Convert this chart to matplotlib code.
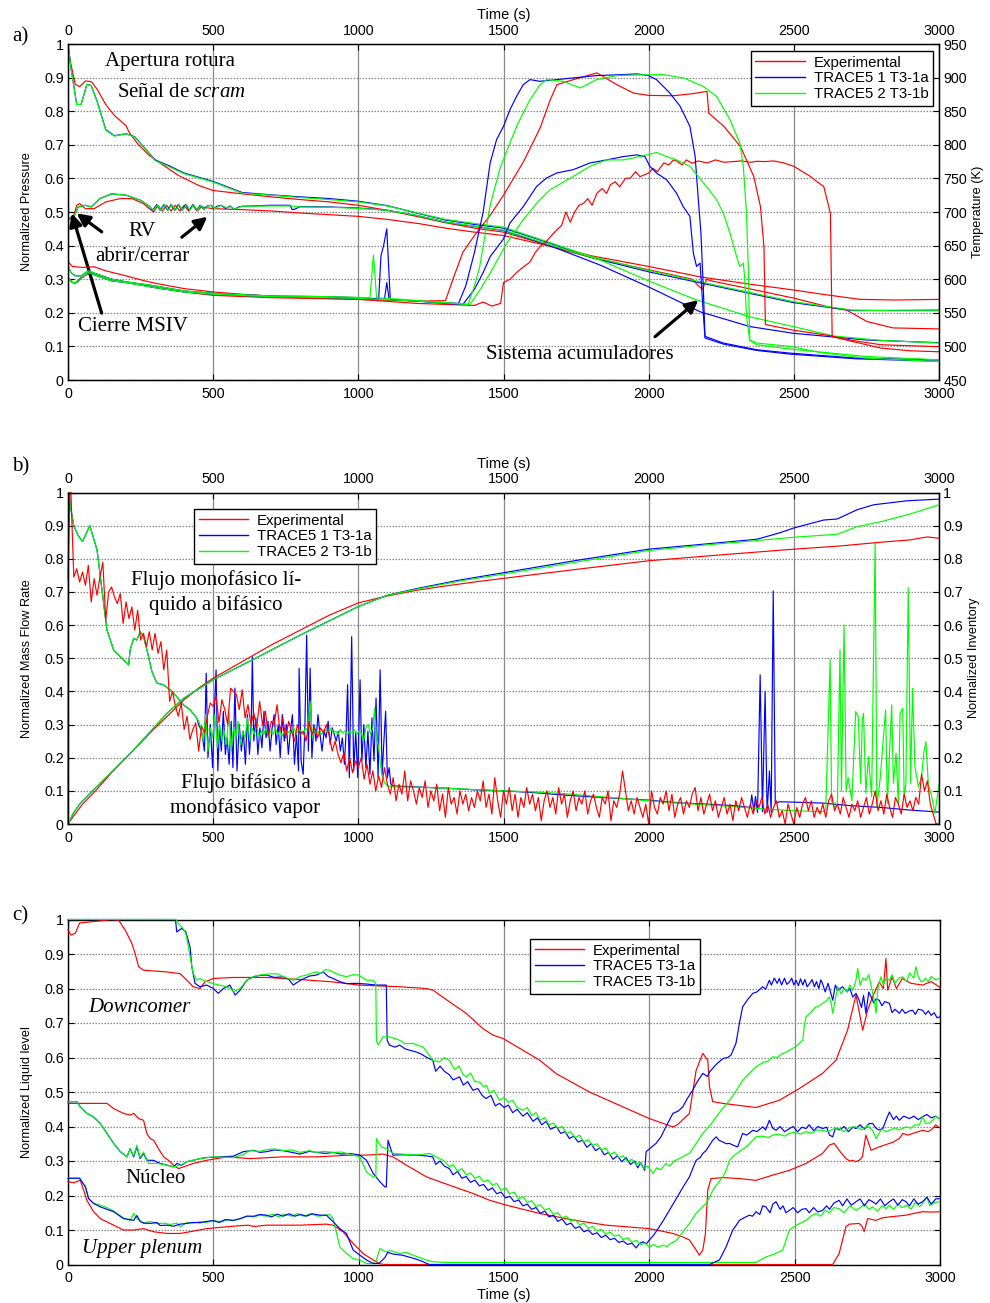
import numpy as np
import matplotlib
matplotlib.use("Agg")
import matplotlib.pyplot as plt
from matplotlib.lines import Line2D
from matplotlib.ticker import FuncFormatter

plt.rcParams['font.family'] = ['Liberation Sans', 'DejaVu Sans']
plt.rcParams['mathtext.fontset'] = 'custom'
plt.rcParams['mathtext.rm'] = 'Liberation Serif'
plt.rcParams['mathtext.it'] = 'Liberation Serif:italic'

RED, BLUE, GREEN = '#ff0000', '#0000ff', '#00ff00'
SERIF = ['Liberation Serif', 'DejaVu Serif']
LW = 0.85

# ---------------------------------------------------------------- panel a
# normalized pressures (left axis)
t_pa_exp = [0, 10, 25, 40, 60, 80, 100, 130, 160, 200, 210, 240, 280, 320, 380, 450, 500, 600, 700, 800,
            900, 1000, 1100, 1200, 1300, 1400, 1500, 1650, 1800, 2000, 2177, 2350, 2498, 2600, 2728, 2850, 3000]
pa_exp = [0.99, 0.94, 0.88, 0.873, 0.89, 0.888, 0.866, 0.82, 0.787, 0.757, 0.738, 0.703, 0.668, 0.644, 0.609,
          0.579, 0.564, 0.554, 0.545, 0.537, 0.53, 0.52, 0.505, 0.487, 0.468, 0.452, 0.44, 0.402, 0.37, 0.338,
          0.307, 0.285, 0.268, 0.255, 0.24, 0.238, 0.24]
t_pb_exp = [0, 20, 30, 40, 60, 90, 130, 180, 220, 260, 280, 295, 310, 325, 340, 355, 370, 385, 400, 415,
            430, 445, 460, 500, 600, 700, 800, 900, 1000, 1100, 1212, 1300, 1400, 1500, 1650, 1800, 2000, 2150,
            2172, 2185, 2200, 2215, 2300, 2498, 2636, 2682, 2752, 2842, 3000]
pb_exp = [0.478, 0.49, 0.52, 0.525, 0.51, 0.51, 0.53, 0.54, 0.54, 0.525, 0.51, 0.5, 0.52, 0.503, 0.52, 0.503,
          0.52, 0.503, 0.52, 0.503, 0.52, 0.503, 0.515, 0.51, 0.507, 0.503, 0.497, 0.492, 0.487, 0.478, 0.465,
          0.452, 0.44, 0.43, 0.4, 0.365, 0.328, 0.30, 0.28, 0.27, 0.30, 0.295, 0.28, 0.244, 0.214, 0.208, 0.174,
          0.155, 0.152]
t_pa_sim = [0, 10, 30, 45, 65, 80, 100, 130, 160, 200, 230, 260, 300, 350, 400, 500, 600, 700, 800, 900,
            1000, 1100, 1200, 1300, 1400, 1500, 1650, 1800, 2000, 2200, 2500, 2700, 2850, 3000]
pa_1a = [1.0, 0.93, 0.82, 0.82, 0.88, 0.876, 0.83, 0.745, 0.727, 0.733, 0.724, 0.694, 0.655, 0.637, 0.616,
         0.591, 0.558, 0.551, 0.545, 0.54, 0.532, 0.519, 0.497, 0.476, 0.463, 0.452, 0.41, 0.365, 0.322, 0.285,
         0.23, 0.207, 0.207, 0.208]
pa_1b = [1.0, 0.93, 0.82, 0.82, 0.88, 0.876, 0.83, 0.743, 0.726, 0.733, 0.723, 0.693, 0.653, 0.634, 0.614,
         0.589, 0.556, 0.55, 0.543, 0.537, 0.53, 0.518, 0.498, 0.478, 0.466, 0.455, 0.412, 0.368, 0.326, 0.288,
         0.233, 0.208, 0.206, 0.206]
t_pb_1a = [0, 15, 25, 35, 60, 80, 110, 150, 200, 250, 280, 292, 305, 318, 330, 343, 355, 368, 380, 393,
           405, 418, 430, 443, 455, 468, 480, 493, 503, 513, 528, 543, 558, 573, 588, 600, 700, 765, 772, 780,
           800, 900, 1000, 1100, 1200, 1300, 1400, 1500, 1650, 1833, 2005, 2177, 2349, 2498, 2752, 3000]
pb_1a = [0.477, 0.48, 0.495, 0.515, 0.52, 0.515, 0.54, 0.554, 0.55, 0.535, 0.517, 0.505, 0.522, 0.505, 0.522,
         0.505, 0.522, 0.505, 0.522, 0.505, 0.522, 0.505, 0.522, 0.505, 0.52, 0.508, 0.518, 0.52, 0.51, 0.517,
         0.52, 0.51, 0.518, 0.508, 0.515, 0.517, 0.52, 0.52, 0.507, 0.508, 0.516, 0.515, 0.512, 0.505, 0.49,
         0.47, 0.457, 0.445, 0.403, 0.342, 0.275, 0.203, 0.159, 0.139, 0.119, 0.111]
t_pb_1b = [0, 15, 25, 35, 60, 80, 110, 150, 200, 250, 280, 295, 308, 320, 333, 345, 358, 370, 383, 395,
           408, 420, 433, 445, 458, 470, 483, 495, 505, 515, 530, 545, 560, 575, 590, 600, 700, 770, 800, 900,
           1000, 1100, 1200, 1300, 1400, 1500, 1650, 1833, 2005, 2166, 2349, 2498, 2636, 2800, 3000]
pb_1b = [0.477, 0.48, 0.495, 0.515, 0.52, 0.515, 0.54, 0.554, 0.55, 0.535, 0.517, 0.505, 0.522, 0.505, 0.522,
         0.505, 0.522, 0.505, 0.522, 0.505, 0.522, 0.505, 0.522, 0.505, 0.52, 0.508, 0.518, 0.52, 0.51, 0.515,
         0.52, 0.512, 0.516, 0.508, 0.514, 0.517, 0.518, 0.518, 0.515, 0.514, 0.511, 0.505, 0.49, 0.47, 0.458,
         0.446, 0.405, 0.357, 0.293, 0.238, 0.188, 0.159, 0.131, 0.118, 0.11]

# cladding temperatures in K (right axis)
t_t1_exp = [0, 15, 50, 90, 130, 200, 260, 300, 400, 500, 600, 800, 1000, 1200, 1300, 1330, 1360, 1400, 1454,
            1500, 1569, 1626, 1661, 1684, 1741, 1822, 1890, 1948, 2000, 2086, 2150, 2201, 2207, 2259, 2316,
            2362, 2385, 2397, 2402, 2500, 2625, 2700, 2800, 3000]
t1_exp = [626, 619, 617.5, 618.5, 612.5, 605, 598, 594, 586, 581, 577.5, 572.5, 570, 567.5, 568, 605, 640, 665,
          695, 725, 775, 825, 867, 889.5, 897, 907, 889.5, 877, 873.5, 873, 876, 879.5, 847, 827.5, 797.5,
          753, 708, 648.5, 532.5, 524, 516, 509, 502.5, 499.5]
t_t2_exp = [0, 15, 25, 45, 75, 100, 150, 200, 300, 400, 500, 700, 1000, 1200, 1300, 1400, 1430, 1460, 1490,
            1500, 1523, 1545, 1569, 1590, 1610, 1626, 1645, 1665, 1684, 1700, 1715, 1730, 1745, 1760, 1776,
            1790, 1805, 1822, 1840, 1855, 1868, 1885, 1900, 1920, 1937, 1955, 1970, 2000, 2015, 2030, 2052,
            2070, 2085, 2098, 2115, 2130, 2150, 2170, 2201, 2230, 2260, 2290, 2320, 2350, 2374, 2400, 2430,
            2466, 2500, 2530, 2557, 2580, 2603, 2626, 2632, 2700, 2800, 2900, 3000]
t2_exp = [602.5, 595, 594, 602.5, 609, 607.5, 600, 596, 587.5, 581, 576, 572.5, 570, 564, 562.5, 561, 566, 560,
          564, 595, 600, 610, 618.5, 625, 640, 648.5, 655, 665, 673.5, 680, 700, 685, 700, 710, 713, 720, 710,
          728, 735, 727.5, 740.5, 745, 737.5, 750, 750.5, 760, 752.5, 758, 765, 760, 773, 770, 777.5, 775.5,
          770, 777.5, 772.5, 776, 773, 777.5, 774, 775, 776, 774, 775.5, 775, 776, 773, 768, 760, 753, 745,
          738, 698, 514.5, 507.5, 497.5, 493.5, 492]
t_t1_1a = [0, 10, 25, 45, 70, 100, 150, 200, 300, 400, 500, 700, 900, 1000, 1060, 1070, 1078, 1087, 1098,
           1110, 1200, 1300, 1345, 1370, 1400, 1430, 1454, 1476, 1500, 1522, 1545, 1568, 1591, 1625, 1683,
           1740, 1821, 1913, 1959, 1999, 2027, 2073, 2108, 2142, 2160, 2171, 2180, 2188, 2194, 2257, 2372,
           2487, 2716, 2998]
t1_1a = [620, 610, 605, 605, 612.5, 607.5, 600, 596, 590, 582.5, 579, 575, 574, 572.5, 571, 570, 635, 650,
         675, 570, 567.5, 565, 564, 590, 640, 700, 773, 807.5, 827.5, 852, 872, 889.5, 897, 894.5, 897, 899.5,
         903, 904.5, 905.5, 903, 897, 877, 857.5, 827.5, 783, 718.5, 668.5, 589, 515, 505, 495, 490, 482.5,
         480]
t_t2_1a = [0, 15, 30, 70, 100, 150, 200, 300, 400, 500, 700, 900, 1000, 1090, 1098, 1106, 1200, 1300, 1360,
           1400, 1430, 1454, 1500, 1522, 1568, 1614, 1648, 1683, 1740, 1798, 1855, 1913, 1959, 1987, 2004,
           2027, 2062, 2096, 2119, 2142, 2154, 2165, 2177, 2188, 2194, 2257, 2372, 2487, 2716, 2998]
t2_1a = [602.5, 595, 595, 610, 605, 597.5, 595, 587.5, 581, 577.5, 574, 572.5, 571.5, 570, 595, 570, 567.5,
         564, 562.5, 585, 610, 633.5, 660, 683.5, 708, 738, 750.5, 758, 763, 773, 777.5, 782.5, 785, 782.5,
         768, 758, 748, 728, 708, 693.5, 638.5, 619, 624, 550, 512.5, 503.5, 494, 488.5, 481.5, 478]
t_t1_1b = [0, 10, 25, 45, 70, 100, 150, 200, 300, 400, 500, 700, 900, 1040, 1052, 1063, 1100, 1200, 1300,
           1378, 1400, 1418, 1454, 1488, 1545, 1591, 1626, 1649, 1706, 1764, 1821, 1890, 1970, 2050, 2120,
           2188, 2234, 2280, 2314, 2326, 2337, 2343, 2348, 2372, 2487, 2602, 2750, 3000]
t1_1b = [620, 610, 605, 605, 612.5, 607.5, 600, 596, 590, 582.5, 579, 575, 574, 572.5, 636, 572.5, 571.5,
         568.5, 565, 562.5, 590, 618.5, 710, 765, 827.5, 867, 889.5, 897, 894.5, 884.5, 897, 903, 904, 904.5,
         899.5, 887, 872, 837.5, 802.5, 767.5, 698.5, 619, 510, 505, 500, 490, 482.5, 477.5]
t_t2_1b = [0, 15, 30, 70, 100, 150, 200, 300, 400, 500, 700, 900, 1000, 1200, 1385, 1420, 1454, 1511, 1568,
           1614, 1660, 1740, 1798, 1855, 1913, 1970, 2028, 2062, 2096, 2142, 2199, 2234, 2257, 2280, 2303,
           2314, 2326, 2331, 2337, 2348, 2372, 2487, 2750, 3000]
t2_1b = [602.5, 595, 595, 610, 605, 597.5, 595, 587.5, 581, 577.5, 574, 572.5, 571.5, 567.5, 562.5, 585, 609,
         653.5, 688.5, 713, 733, 753, 768, 777.5, 777.5, 782.5, 788.5, 782.5, 777.5, 768, 738, 718, 698.5,
         668.5, 633.5, 619, 624, 600, 545, 509, 502.5, 496, 485, 480]

# ---------------------------------------------------------------- panel b
# experimental break mass flow, sampled every 10 s from t = 10 s
flow_exp_head = [(0, 0.74), (6, 1.0)]
flow_exp_10s = [
    1.0, 0.745, 0.77, 0.73, 0.76, 0.72, 0.78, 0.67, 0.74, 0.69,
    0.745, 0.79, 0.615, 0.70, 0.715, 0.685, 0.665, 0.695, 0.605, 0.67,
    0.62, 0.655, 0.585, 0.645, 0.555, 0.575, 0.535, 0.58, 0.525, 0.575,
    0.515, 0.55, 0.465, 0.525, 0.37, 0.40, 0.355, 0.325, 0.365, 0.285,
    0.325, 0.255, 0.285, 0.305, 0.22, 0.295, 0.275, 0.325, 0.365, 0.355,
    0.385, 0.305, 0.375, 0.345, 0.30, 0.41, 0.40, 0.39, 0.345, 0.405,
    0.32, 0.36, 0.30, 0.335, 0.29, 0.37, 0.30, 0.34, 0.265, 0.31,
    0.30, 0.36, 0.28, 0.32, 0.26, 0.31, 0.28, 0.25, 0.30, 0.27,
    0.28, 0.25, 0.31, 0.27, 0.29, 0.26, 0.29, 0.275, 0.30, 0.265,
    0.22, 0.25, 0.21, 0.185, 0.215, 0.16, 0.20, 0.155, 0.19, 0.17,
    0.20, 0.135, 0.18, 0.12, 0.16, 0.10, 0.145, 0.11, 0.17, 0.12,
    0.09, 0.14, 0.07, 0.12, 0.09, 0.16, 0.07, 0.13, 0.10, 0.06,
    0.11, 0.08, 0.13, 0.05, 0.10, 0.07, 0.12, 0.04, 0.09, 0.02,
    0.11, 0.06, 0.08, 0.03, 0.10, 0.06, 0.09, 0.04, 0.08, 0.05,
    0.10, 0.07, 0.13, 0.05, 0.09, 0.03, 0.14, 0.07, 0.02, 0.10,
    0.06, 0.11, 0.04, 0.09, 0.02, 0.08, 0.05, 0.11, 0.06, 0.09,
    0.04, 0.08, 0.01, 0.07, 0.10, 0.05, 0.08, 0.03, 0.11, 0.06,
    0.09, 0.02, 0.07, 0.10, 0.04, 0.08, 0.06, 0.10, 0.03, 0.07,
    0.09, 0.05, 0.02, 0.08, 0.06, 0.10, 0.01, 0.07, 0.05, 0.09,
    0.16, 0.10, 0.04, 0.07, 0.03, 0.08, 0.05, 0.02, 0.06, 0.0,
    0.10, 0.05, 0.03, 0.08, 0.06, 0.10, 0.04, 0.09, 0.02, 0.06,
    0.08, 0.03, 0.07, 0.05, 0.09, 0.11, 0.04, 0.08, 0.03, 0.06,
    0.09, 0.04, 0.07, 0.02, 0.05, 0.08, 0.03, 0.06, 0.01, 0.07,
    0.04, 0.08, 0.05, 0.02, 0.06, 0.03, 0.07, 0.05, 0.08, 0.03,
    0.06, 0.02, 0.05, 0.07, 0.02, 0.04, 0.0, 0.06, 0.03, 0.0,
    0.05, 0.02, 0.06, 0.08, 0.04, 0.07, 0.02, 0.05, 0.03, 0.06,
    0.02, 0.07, 0.09, 0.04, 0.06, 0.03, 0.08, 0.05, 0.02, 0.06,
    0.04, 0.07, 0.02, 0.05, 0.08, 0.03, 0.06, 0.10, 0.04, 0.07,
    0.03, 0.09, 0.05, 0.02, 0.08, 0.06, 0.03, 0.09, 0.05, 0.07,
    0.04, 0.08, 0.06, 0.15, 0.10, 0.13, 0.06, 0.03, 0.0, 0.0,
]
flow_sim_start = [(0, 0.0), (2, 1.0), (10, 0.95), (20, 0.9), (35, 0.87), (50, 0.852), (75, 0.9), (100, 0.827),
                  (117, 0.706), (134, 0.586), (157, 0.525), (180, 0.505), (209, 0.48), (214, 0.525), (226, 0.56),
                  (237, 0.555), (249, 0.58), (260, 0.565), (272, 0.525), (289, 0.46), (306, 0.425), (329, 0.42),
                  (352, 0.404), (375, 0.384), (398, 0.359), (421, 0.344), (444, 0.319)]
flow_1a = [(450, 0.30), (460, 0.28), (470, 0.22), (476, 0.455), (482, 0.20), (490, 0.30), (498, 0.17), (505, 0.36),
           (510, 0.465), (516, 0.16), (522, 0.30), (528, 0.22), (535, 0.34), (542, 0.21), (548, 0.26), (555, 0.18),
           (562, 0.31), (568, 0.17), (575, 0.41), (582, 0.16), (590, 0.30), (597, 0.22), (604, 0.28), (611, 0.18),
           (618, 0.33), (625, 0.21), (631, 0.30), (635, 0.505), (640, 0.25), (647, 0.32), (654, 0.21), (661, 0.29),
           (668, 0.23), (675, 0.34), (682, 0.26), (689, 0.31), (696, 0.22), (703, 0.29), (710, 0.33), (717, 0.24),
           (724, 0.30), (731, 0.20), (738, 0.33), (745, 0.25), (752, 0.30), (759, 0.21), (766, 0.28), (773, 0.33),
           (780, 0.18), (787, 0.27), (794, 0.16), (796, 0.47), (803, 0.19), (810, 0.15), (816, 0.30), (822, 0.57),
           (828, 0.22), (834, 0.47), (840, 0.20), (847, 0.30), (854, 0.25), (861, 0.33), (868, 0.27), (875, 0.22),
           (882, 0.28), (889, 0.26), (896, 0.31), (903, 0.24), (910, 0.29), (917, 0.27), (924, 0.25), (931, 0.28),
           (938, 0.22), (945, 0.26), (952, 0.18), (958, 0.28), (963, 0.42), (969, 0.14), (977, 0.565), (984, 0.16),
           (991, 0.28), (998, 0.14), (1006, 0.435), (1012, 0.19), (1019, 0.30), (1026, 0.17), (1033, 0.28),
           (1040, 0.15), (1047, 0.32), (1054, 0.19), (1061, 0.38), (1068, 0.14), (1075, 0.465), (1082, 0.15),
           (1088, 0.25), (1094, 0.34), (1100, 0.14), (1106, 0.17), (1112, 0.12), (1120, 0.115), (1200, 0.112),
           (1300, 0.108), (1400, 0.103), (1500, 0.1), (1600, 0.095), (1700, 0.088), (1800, 0.082), (1900, 0.077),
           (2000, 0.072), (2100, 0.064), (2200, 0.06), (2300, 0.055), (2350, 0.05), (2355, 0.088), (2362, 0.04),
           (2368, 0.083), (2375, 0.035), (2384, 0.45), (2392, 0.037), (2401, 0.40), (2408, 0.035), (2416, 0.16),
           (2422, 0.035), (2429, 0.703), (2436, 0.062), (2450, 0.067), (2500, 0.066), (2600, 0.063),
           (2700, 0.055), (2800, 0.05), (2900, 0.042), (3000, 0.036)]
flow_1b = [(450, 0.31), (458, 0.29), (466, 0.25), (474, 0.33), (482, 0.22), (490, 0.29), (498, 0.26), (506, 0.33),
           (514, 0.23), (522, 0.30), (530, 0.25), (538, 0.28), (546, 0.24), (554, 0.34), (562, 0.22), (570, 0.29),
           (578, 0.26), (586, 0.31), (594, 0.24), (602, 0.28), (610, 0.26), (618, 0.32), (626, 0.25), (634, 0.29),
           (642, 0.27), (650, 0.30), (658, 0.26), (666, 0.28), (674, 0.27), (682, 0.29), (690, 0.26), (698, 0.28),
           (706, 0.27), (714, 0.29), (722, 0.27), (730, 0.28), (738, 0.265), (746, 0.285), (754, 0.27), (762, 0.28),
           (770, 0.275), (778, 0.29), (786, 0.27), (794, 0.285), (802, 0.28), (810, 0.27), (818, 0.29), (826, 0.28),
           (834, 0.37), (842, 0.26), (850, 0.285), (858, 0.275), (866, 0.28), (874, 0.27), (882, 0.285), (890, 0.28),
           (898, 0.275), (906, 0.29), (914, 0.275), (922, 0.28), (930, 0.27), (938, 0.285), (946, 0.275),
           (954, 0.28), (962, 0.27), (970, 0.28), (978, 0.275), (986, 0.285), (994, 0.27), (1002, 0.28),
           (1010, 0.275), (1018, 0.25), (1026, 0.29), (1034, 0.30), (1042, 0.27), (1050, 0.29), (1056, 0.35),
           (1062, 0.26), (1068, 0.24), (1074, 0.20), (1080, 0.15), (1090, 0.125), (1100, 0.115), (1120, 0.112),
           (1200, 0.111), (1300, 0.108), (1400, 0.104), (1500, 0.1), (1600, 0.097), (1700, 0.092), (1800, 0.085),
           (1900, 0.078), (2000, 0.07), (2100, 0.063), (2200, 0.058), (2300, 0.052), (2400, 0.045), (2500, 0.04),
           (2600, 0.037), (2610, 0.045), (2625, 0.497), (2630, 0.07), (2640, 0.05), (2650, 0.06), (2659, 0.525),
           (2664, 0.1), (2673, 0.6), (2680, 0.1), (2687, 0.14), (2700, 0.07), (2713, 0.339), (2722, 0.324),
           (2730, 0.123), (2736, 0.314), (2740, 0.334), (2748, 0.093), (2757, 0.203), (2768, 0.082), (2780, 0.847),
           (2786, 0.052), (2797, 0.133), (2816, 0.344), (2822, 0.062), (2837, 0.359), (2843, 0.123), (2852, 0.213),
           (2860, 0.062), (2866, 0.334), (2875, 0.349), (2880, 0.082), (2886, 0.123), (2894, 0.713), (2902, 0.123),
           (2909, 0.409), (2917, 0.173), (2929, 0.113), (2940, 0.143), (2948, 0.218), (2955, 0.248), (2963, 0.123),
           (2975, 0.082), (2986, 0.032), (3000, 0.12)]
inv_exp = [(0, 0.0), (20, 0.025), (50, 0.06), (100, 0.105), (150, 0.155), (200, 0.2), (250, 0.245), (300, 0.29),
           (350, 0.332), (400, 0.375), (450, 0.41), (500, 0.44), (600, 0.49), (700, 0.54), (800, 0.585),
           (900, 0.63), (1000, 0.667), (1100, 0.688), (1200, 0.705), (1300, 0.718), (1400, 0.73), (1500, 0.741),
           (1750, 0.768), (2000, 0.794), (2250, 0.812), (2500, 0.829), (2650, 0.838), (2800, 0.85), (2900, 0.857),
           (2960, 0.866), (3000, 0.862)]
inv_1a = [(0, 0.0), (20, 0.035), (42, 0.062), (111, 0.123), (226, 0.223), (341, 0.334), (398, 0.379), (500, 0.435),
          (639, 0.497), (800, 0.57), (1000, 0.656), (1100, 0.69), (1200, 0.71), (1350, 0.736), (1500, 0.758),
          (1750, 0.795), (2000, 0.829), (2200, 0.845), (2373, 0.859), (2450, 0.878), (2500, 0.893), (2603, 0.917),
          (2649, 0.92), (2718, 0.948), (2775, 0.963), (2890, 0.975), (3000, 0.98)]
inv_1b = [(0, 0.0), (20, 0.035), (42, 0.062), (111, 0.123), (226, 0.223), (341, 0.334), (398, 0.379), (500, 0.435),
          (639, 0.497), (800, 0.57), (1000, 0.656), (1100, 0.69), (1200, 0.708), (1350, 0.733), (1500, 0.754),
          (1750, 0.79), (2000, 0.825), (2200, 0.842), (2373, 0.855), (2500, 0.865), (2649, 0.874), (2718, 0.897),
          (2800, 0.912), (2900, 0.935), (3000, 0.963)]

# ---------------------------------------------------------------- panel c
dc_exp = [(0, 0.97), (10, 0.955), (25, 0.96), (40, 0.99), (100, 0.995), (150, 1.0), (174, 0.998), (197, 0.969),
          (220, 0.93), (231, 0.901), (243, 0.863), (260, 0.853), (340, 0.848), (386, 0.843), (409, 0.824),
          (431, 0.805), (454, 0.8), (471, 0.819), (500, 0.829), (569, 0.832), (683, 0.832), (798, 0.826),
          (912, 0.819), (1000, 0.81), (1084, 0.807), (1141, 0.805), (1233, 0.8), (1256, 0.795), (1313, 0.761),
          (1370, 0.728), (1427, 0.684), (1462, 0.665), (1497, 0.655), (1565, 0.621), (1623, 0.592), (1680, 0.553),
          (1794, 0.5), (1909, 0.457), (2000, 0.423), (2081, 0.399), (2095, 0.404), (2138, 0.438), (2161, 0.563),
          (2184, 0.612), (2201, 0.592), (2207, 0.515), (2218, 0.472), (2253, 0.467), (2367, 0.455), (2447, 0.476),
          (2516, 0.51), (2596, 0.554), (2642, 0.592), (2682, 0.679), (2711, 0.781), (2734, 0.679), (2751, 0.737),
          (2768, 0.776), (2791, 0.819), (2805, 0.80), (2814, 0.887), (2820, 0.795), (2835, 0.834), (2850, 0.80),
          (2870, 0.829), (2900, 0.815), (2940, 0.81), (2970, 0.82), (3000, 0.803)]
dc_1a = [(0, 1.0), (370, 1.0), (374, 0.964), (391, 0.974), (405, 0.965), (420, 0.92), (426, 0.863), (437, 0.815),
         (454, 0.805), (477, 0.81), (500, 0.8), (517, 0.786), (535, 0.8), (557, 0.81), (575, 0.781), (592, 0.795),
         (615, 0.824), (638, 0.834), (660, 0.838), (683, 0.839), (710, 0.832), (740, 0.834), (760, 0.826),
         (775, 0.81), (800, 0.824), (830, 0.836), (855, 0.839), (878, 0.848), (895, 0.835), (912, 0.829),
         (935, 0.82), (958, 0.814), (990, 0.815), (1027, 0.813), (1060, 0.81), (1095, 0.81), (1098, 0.65),
         (1106, 0.636), (1125, 0.63), (1141, 0.636), (1160, 0.625), (1180, 0.62), (1198, 0.616), (1215, 0.61),
         (1235, 0.6), (1255, 0.592), (1265, 0.56), (1280, 0.575), (1295, 0.56), (1312, 0.55), (1325, 0.535),
         (1347, 0.544), (1360, 0.52), (1375, 0.53), (1393, 0.505), (1410, 0.51), (1425, 0.49), (1438, 0.481),
         (1455, 0.49), (1470, 0.46), (1485, 0.467), (1500, 0.455), (1515, 0.462), (1530, 0.44), (1545, 0.45),
         (1565, 0.43), (1580, 0.44), (1600, 0.415), (1615, 0.425), (1630, 0.405), (1645, 0.415), (1660, 0.392),
         (1680, 0.4), (1695, 0.38), (1710, 0.385), (1725, 0.365), (1740, 0.372), (1755, 0.355), (1770, 0.36),
         (1785, 0.34), (1800, 0.35), (1815, 0.33), (1830, 0.338), (1845, 0.318), (1860, 0.325), (1875, 0.305),
         (1890, 0.315), (1905, 0.298), (1920, 0.31), (1935, 0.29), (1950, 0.3), (1960, 0.28), (1970, 0.295),
         (1984, 0.273), (1989, 0.327), (2000, 0.335), (2023, 0.351), (2040, 0.37), (2057, 0.399), (2070, 0.42),
         (2081, 0.438), (2100, 0.445), (2115, 0.457), (2130, 0.48), (2149, 0.505), (2165, 0.53), (2184, 0.554),
         (2200, 0.545), (2207, 0.558), (2230, 0.58), (2253, 0.597), (2270, 0.6), (2281, 0.607), (2298, 0.641),
         (2310, 0.7), (2321, 0.747), (2340, 0.77), (2356, 0.786), (2370, 0.79), (2390, 0.805), (2400, 0.798),
         (2413, 0.824), (2420, 0.81), (2430, 0.83), (2440, 0.815), (2447, 0.829), (2455, 0.81), (2465, 0.83),
         (2473, 0.812), (2482, 0.819), (2490, 0.83), (2497, 0.81), (2505, 0.824), (2513, 0.808), (2520, 0.828),
         (2528, 0.81), (2535, 0.826), (2543, 0.805), (2551, 0.814), (2560, 0.826), (2568, 0.805), (2575, 0.82),
         (2583, 0.8), (2590, 0.825), (2596, 0.814), (2605, 0.79), (2615, 0.815), (2631, 0.766), (2640, 0.81),
         (2648, 0.795), (2665, 0.805), (2680, 0.79), (2690, 0.8), (2700, 0.775), (2711, 0.786), (2720, 0.77),
         (2730, 0.745), (2737, 0.78), (2745, 0.728), (2755, 0.79), (2763, 0.776), (2772, 0.758), (2780, 0.77),
         (2791, 0.766), (2800, 0.75), (2810, 0.762), (2826, 0.757), (2835, 0.73), (2845, 0.74), (2860, 0.728),
         (2870, 0.74), (2880, 0.728), (2895, 0.735), (2906, 0.737), (2915, 0.725), (2925, 0.74), (2940, 0.737),
         (2950, 0.725), (2960, 0.735), (2970, 0.722), (2980, 0.73), (2990, 0.715), (3000, 0.718)]
dc_1b = [(0, 1.0), (372, 1.0), (380, 0.988), (395, 0.975), (405, 0.96), (412, 0.93), (420, 0.892), (431, 0.843),
         (443, 0.824), (454, 0.829), (470, 0.822), (485, 0.819), (500, 0.814), (520, 0.81), (545, 0.805),
         (560, 0.8), (569, 0.79), (580, 0.795), (592, 0.8), (615, 0.824), (640, 0.835), (661, 0.839), (690, 0.842),
         (717, 0.843), (745, 0.833), (775, 0.824), (800, 0.835), (821, 0.839), (840, 0.845), (855, 0.848),
         (870, 0.843), (885, 0.855), (900, 0.853), (923, 0.843), (940, 0.838), (958, 0.834), (980, 0.84),
         (1000, 0.839), (1027, 0.824), (1050, 0.824), (1059, 0.814), (1061, 0.65), (1067, 0.636), (1084, 0.66),
         (1106, 0.66), (1141, 0.65), (1160, 0.64), (1187, 0.641), (1205, 0.635), (1221, 0.631), (1240, 0.61),
         (1255, 0.592), (1278, 0.587), (1295, 0.6), (1312, 0.592), (1330, 0.565), (1345, 0.575), (1360, 0.55),
         (1370, 0.544), (1385, 0.555), (1400, 0.53), (1416, 0.529), (1430, 0.515), (1440, 0.52), (1450, 0.496),
         (1465, 0.505), (1485, 0.476), (1500, 0.485), (1515, 0.47), (1530, 0.476), (1545, 0.455), (1565, 0.447),
         (1580, 0.455), (1595, 0.432), (1610, 0.44), (1625, 0.418), (1640, 0.426), (1655, 0.405), (1670, 0.41),
         (1685, 0.395), (1700, 0.4), (1715, 0.38), (1730, 0.385), (1745, 0.368), (1760, 0.375), (1775, 0.355),
         (1790, 0.362), (1805, 0.345), (1820, 0.35), (1835, 0.332), (1850, 0.338), (1865, 0.318), (1880, 0.326),
         (1895, 0.31), (1910, 0.315), (1925, 0.298), (1940, 0.305), (1955, 0.288), (1966, 0.298), (1980, 0.278),
         (1995, 0.285), (2012, 0.264), (2025, 0.28), (2040, 0.275), (2057, 0.293), (2070, 0.285), (2085, 0.3),
         (2103, 0.307), (2120, 0.315), (2138, 0.322), (2160, 0.35), (2184, 0.38), (2200, 0.395), (2215, 0.41),
         (2230, 0.428), (2250, 0.45), (2276, 0.476), (2300, 0.505), (2321, 0.534), (2345, 0.555), (2367, 0.573),
         (2390, 0.585), (2410, 0.59), (2424, 0.602), (2440, 0.6), (2455, 0.61), (2470, 0.615), (2482, 0.621),
         (2500, 0.63), (2515, 0.64), (2528, 0.65), (2533, 0.69), (2539, 0.718), (2555, 0.73), (2570, 0.745),
         (2585, 0.75), (2596, 0.757), (2610, 0.765), (2619, 0.776), (2625, 0.76), (2631, 0.728), (2640, 0.77),
         (2648, 0.805), (2660, 0.785), (2670, 0.8), (2680, 0.79), (2690, 0.81), (2700, 0.795), (2710, 0.82),
         (2717, 0.858), (2725, 0.81), (2735, 0.83), (2745, 0.824), (2755, 0.84), (2765, 0.8), (2775, 0.76),
         (2780, 0.728), (2786, 0.8), (2797, 0.834), (2805, 0.81), (2815, 0.83), (2826, 0.824), (2835, 0.84),
         (2845, 0.815), (2858, 0.83), (2872, 0.834), (2885, 0.82), (2895, 0.845), (2910, 0.83), (2917, 0.863),
         (2925, 0.835), (2935, 0.82), (2940, 0.819), (2950, 0.83), (2960, 0.82), (2970, 0.835), (2985, 0.825),
         (2997, 0.829)]
core_exp = [(0, 0.467), (134, 0.467), (157, 0.452), (191, 0.438), (214, 0.433), (226, 0.438), (243, 0.423),
            (260, 0.418), (271, 0.38), (283, 0.365), (295, 0.36), (311, 0.336), (329, 0.312), (346, 0.302),
            (363, 0.288), (380, 0.278), (397, 0.283), (431, 0.293), (477, 0.302), (546, 0.312), (626, 0.307),
            (740, 0.312), (855, 0.312), (969, 0.317), (1027, 0.317), (1084, 0.32), (1118, 0.312), (1164, 0.288),
            (1233, 0.254), (1312, 0.23), (1393, 0.206), (1451, 0.186), (1508, 0.172), (1623, 0.148),
            (1737, 0.129), (1852, 0.114), (2000, 0.104), (2081, 0.09), (2115, 0.08), (2138, 0.071), (2161, 0.042),
            (2172, 0.027), (2184, 0.042), (2193, 0.09), (2201, 0.215), (2212, 0.249), (2253, 0.252), (2310, 0.249),
            (2367, 0.244), (2424, 0.259), (2482, 0.273), (2539, 0.293), (2596, 0.322), (2619, 0.346),
            (2636, 0.351), (2653, 0.331), (2676, 0.307), (2690, 0.3), (2699, 0.302), (2710, 0.298), (2722, 0.302),
            (2733, 0.312), (2745, 0.375), (2763, 0.331), (2791, 0.341), (2826, 0.351), (2840, 0.355),
            (2849, 0.36), (2860, 0.365), (2872, 0.38), (2890, 0.375), (2906, 0.38), (2940, 0.389), (2960, 0.385),
            (2975, 0.394), (2985, 0.405), (2997, 0.397)]
core_1a = [(0, 0.472), (31, 0.472), (42, 0.457), (65, 0.438), (88, 0.428), (111, 0.409), (134, 0.38), (157, 0.351),
           (180, 0.327), (203, 0.312), (214, 0.336), (226, 0.312), (237, 0.341), (248, 0.307), (260, 0.322),
           (271, 0.302), (294, 0.302), (317, 0.293), (340, 0.288), (363, 0.283), (375, 0.293), (391, 0.288),
           (409, 0.298), (431, 0.302), (454, 0.307), (477, 0.31), (520, 0.312), (569, 0.314), (603, 0.327),
           (638, 0.331), (660, 0.325), (683, 0.327), (710, 0.332), (740, 0.33), (770, 0.325), (798, 0.32),
           (830, 0.328), (855, 0.325), (885, 0.322), (912, 0.325), (940, 0.32), (969, 0.322), (1004, 0.317),
           (1027, 0.302), (1050, 0.264), (1073, 0.24), (1090, 0.225), (1095, 0.225), (1101, 0.36), (1112, 0.331),
           (1118, 0.317), (1150, 0.318), (1198, 0.317), (1230, 0.315), (1255, 0.312), (1265, 0.29), (1280, 0.3),
           (1295, 0.285), (1312, 0.278), (1325, 0.26), (1340, 0.27), (1355, 0.25), (1370, 0.255), (1385, 0.238),
           (1400, 0.245), (1415, 0.228), (1430, 0.232), (1445, 0.215), (1460, 0.222), (1475, 0.205), (1490, 0.21),
           (1505, 0.193), (1520, 0.198), (1535, 0.182), (1550, 0.187), (1565, 0.17), (1580, 0.175), (1595, 0.16),
           (1610, 0.165), (1625, 0.148), (1640, 0.155), (1655, 0.138), (1670, 0.143), (1685, 0.125), (1700, 0.132),
           (1715, 0.115), (1730, 0.12), (1745, 0.105), (1760, 0.11), (1775, 0.095), (1790, 0.1), (1805, 0.087),
           (1820, 0.092), (1835, 0.078), (1850, 0.085), (1865, 0.072), (1880, 0.076), (1895, 0.064), (1910, 0.068),
           (1925, 0.058), (1940, 0.062), (1955, 0.048), (1965, 0.06), (1978, 0.066), (1990, 0.06), (2000, 0.071),
           (2015, 0.085), (2034, 0.109), (2050, 0.13), (2069, 0.157), (2085, 0.18), (2103, 0.206), (2120, 0.23),
           (2138, 0.254), (2150, 0.28), (2161, 0.302), (2175, 0.31), (2184, 0.322), (2195, 0.33), (2207, 0.346),
           (2218, 0.36), (2230, 0.37), (2240, 0.36), (2253, 0.355), (2265, 0.35), (2276, 0.351), (2290, 0.345),
           (2304, 0.341), (2312, 0.36), (2321, 0.38), (2335, 0.375), (2356, 0.389), (2370, 0.385), (2390, 0.399),
           (2400, 0.39), (2413, 0.418), (2425, 0.395), (2436, 0.389), (2450, 0.4), (2465, 0.385), (2482, 0.394),
           (2495, 0.4), (2510, 0.385), (2525, 0.398), (2539, 0.394), (2550, 0.405), (2565, 0.388), (2580, 0.4),
           (2596, 0.394), (2610, 0.398), (2620, 0.375), (2631, 0.37), (2640, 0.395), (2655, 0.39), (2670, 0.4),
           (2685, 0.385), (2700, 0.398), (2711, 0.394), (2725, 0.405), (2740, 0.392), (2755, 0.408), (2768, 0.409),
           (2780, 0.395), (2790, 0.39), (2803, 0.394), (2815, 0.42), (2826, 0.442), (2840, 0.42), (2850, 0.43),
           (2860, 0.418), (2875, 0.43), (2895, 0.423), (2910, 0.43), (2925, 0.42), (2940, 0.428), (2955, 0.435),
           (2970, 0.425), (2985, 0.43), (2997, 0.423)]
core_1b = [(0, 0.472), (31, 0.472), (42, 0.457), (65, 0.438), (88, 0.428), (111, 0.409), (134, 0.38), (157, 0.351),
           (180, 0.327), (203, 0.312), (214, 0.336), (226, 0.315), (237, 0.346), (248, 0.31), (260, 0.326),
           (277, 0.293), (306, 0.293), (340, 0.288), (363, 0.283), (386, 0.288), (409, 0.298), (454, 0.307),
           (500, 0.312), (569, 0.31), (600, 0.318), (626, 0.33), (660, 0.328), (683, 0.333), (710, 0.335),
           (740, 0.33), (770, 0.332), (798, 0.325), (830, 0.33), (855, 0.325), (880, 0.328), (912, 0.325),
           (940, 0.326), (969, 0.32), (1004, 0.312), (1027, 0.268), (1050, 0.254), (1059, 0.254), (1061, 0.365),
           (1078, 0.341), (1095, 0.336), (1118, 0.322), (1150, 0.32), (1198, 0.317), (1244, 0.322), (1260, 0.315),
           (1278, 0.307), (1295, 0.3), (1312, 0.283), (1325, 0.29), (1340, 0.27), (1355, 0.278), (1370, 0.26),
           (1385, 0.265), (1400, 0.25), (1415, 0.256), (1430, 0.24), (1445, 0.245), (1460, 0.23), (1475, 0.235),
           (1490, 0.215), (1505, 0.222), (1520, 0.205), (1535, 0.21), (1550, 0.19), (1565, 0.197), (1580, 0.18),
           (1595, 0.185), (1610, 0.168), (1625, 0.173), (1640, 0.158), (1655, 0.163), (1670, 0.145), (1685, 0.15),
           (1700, 0.135), (1715, 0.14), (1730, 0.125), (1745, 0.13), (1760, 0.115), (1775, 0.12), (1790, 0.105),
           (1805, 0.11), (1820, 0.098), (1835, 0.102), (1850, 0.088), (1865, 0.094), (1880, 0.082), (1895, 0.086),
           (1910, 0.072), (1925, 0.078), (1940, 0.065), (1955, 0.07), (1970, 0.058), (1985, 0.062), (2000, 0.051),
           (2015, 0.058), (2030, 0.05), (2046, 0.056), (2060, 0.052), (2075, 0.062), (2090, 0.068), (2103, 0.08),
           (2120, 0.1), (2138, 0.119), (2150, 0.135), (2161, 0.148), (2180, 0.165), (2195, 0.177), (2207, 0.195),
           (2218, 0.215), (2235, 0.235), (2253, 0.254), (2265, 0.275), (2276, 0.302), (2290, 0.315), (2310, 0.327),
           (2333, 0.341), (2356, 0.36), (2367, 0.37), (2390, 0.372), (2410, 0.368), (2424, 0.375), (2445, 0.378),
           (2465, 0.372), (2482, 0.38), (2500, 0.383), (2520, 0.378), (2539, 0.385), (2560, 0.38), (2575, 0.39),
           (2596, 0.389), (2615, 0.385), (2630, 0.392), (2653, 0.394), (2670, 0.385), (2690, 0.398), (2711, 0.399),
           (2730, 0.39), (2750, 0.402), (2768, 0.389), (2780, 0.365), (2790, 0.38), (2800, 0.392), (2815, 0.385),
           (2826, 0.389), (2845, 0.396), (2860, 0.39), (2883, 0.399), (2900, 0.395), (2915, 0.405), (2929, 0.404),
           (2940, 0.428), (2950, 0.41), (2963, 0.409), (2975, 0.418), (2985, 0.43), (2997, 0.423)]
up_exp = [(0, 0.24), (20, 0.237), (42, 0.244), (54, 0.215), (65, 0.186), (88, 0.153), (111, 0.133), (145, 0.119),
          (191, 0.1), (226, 0.1), (260, 0.104), (294, 0.095), (340, 0.09), (386, 0.09), (420, 0.095), (477, 0.104),
          (569, 0.111), (620, 0.114), (640, 0.11), (683, 0.114), (798, 0.114), (889, 0.117), (912, 0.114),
          (946, 0.095), (981, 0.061), (1015, 0.032), (1050, 0.013), (1073, 0.002), (1090, 0.0), (2631, 0.0),
          (2653, 0.032), (2676, 0.109), (2688, 0.117), (2722, 0.119), (2732, 0.11), (2739, 0.095), (2751, 0.133),
          (2780, 0.128), (2800, 0.135), (2826, 0.138), (2850, 0.14), (2883, 0.143), (2910, 0.148), (2940, 0.153),
          (2970, 0.152), (3000, 0.153)]
up_1a = [(0, 0.25), (40, 0.25), (60, 0.225), (71, 0.191), (88, 0.177), (111, 0.167), (134, 0.16), (157, 0.153),
         (191, 0.133), (226, 0.128), (237, 0.142), (248, 0.125), (260, 0.12), (283, 0.119), (306, 0.122),
         (317, 0.113), (340, 0.114), (363, 0.111), (386, 0.117), (409, 0.119), (431, 0.122), (454, 0.121),
         (477, 0.125), (500, 0.127), (520, 0.122), (540, 0.13), (569, 0.128), (590, 0.132), (615, 0.14), (640, 0.14),
         (660, 0.145), (683, 0.143), (700, 0.138), (720, 0.146), (740, 0.14), (760, 0.147), (780, 0.14),
         (800, 0.145), (820, 0.14), (840, 0.147), (866, 0.143), (889, 0.143), (912, 0.124), (935, 0.104),
         (958, 0.09), (981, 0.042), (1004, 0.027), (1027, 0.013), (1050, 0.003), (1070, 0.003), (1090, 0.02),
         (1100, 0.035), (1120, 0.03), (1150, 0.027), (1180, 0.02), (1210, 0.012), (1243, 0.0), (2207, 0.0),
         (2241, 0.013), (2264, 0.051), (2287, 0.1), (2300, 0.115), (2310, 0.128), (2325, 0.135), (2344, 0.143),
         (2355, 0.14), (2367, 0.153), (2380, 0.145), (2390, 0.17), (2401, 0.167), (2415, 0.15), (2425, 0.175),
         (2436, 0.182), (2450, 0.16), (2460, 0.17), (2470, 0.15), (2482, 0.157), (2495, 0.165), (2510, 0.15),
         (2525, 0.16), (2539, 0.162), (2550, 0.15), (2565, 0.165), (2580, 0.152), (2596, 0.157), (2610, 0.17),
         (2620, 0.16), (2635, 0.178), (2653, 0.186), (2665, 0.17), (2680, 0.19), (2695, 0.172), (2711, 0.182),
         (2725, 0.19), (2740, 0.17), (2755, 0.188), (2768, 0.182), (2780, 0.175), (2795, 0.19), (2810, 0.17),
         (2826, 0.182), (2840, 0.19), (2855, 0.172), (2870, 0.188), (2883, 0.182), (2895, 0.17), (2910, 0.19),
         (2925, 0.175), (2940, 0.182), (2955, 0.195), (2970, 0.175), (2985, 0.19), (2997, 0.191)]
up_1b = [(0, 0.25), (40, 0.25), (60, 0.225), (71, 0.191), (88, 0.177), (111, 0.172), (134, 0.165), (157, 0.155),
         (191, 0.135), (214, 0.128), (226, 0.148), (237, 0.133), (260, 0.12), (283, 0.125), (306, 0.118),
         (329, 0.12), (352, 0.116), (375, 0.12), (386, 0.109), (409, 0.122), (431, 0.12), (454, 0.124),
         (477, 0.122), (500, 0.128), (525, 0.123), (550, 0.13), (569, 0.127), (590, 0.133), (615, 0.14),
         (640, 0.138), (660, 0.143), (683, 0.14), (705, 0.146), (725, 0.138), (745, 0.146), (770, 0.14),
         (790, 0.148), (810, 0.14), (835, 0.147), (860, 0.14), (889, 0.143), (900, 0.145), (912, 0.133),
         (935, 0.051), (958, 0.032), (981, 0.017), (1004, 0.013), (1027, 0.003), (1050, 0.003), (1061, 0.013),
         (1073, 0.046), (1085, 0.04), (1095, 0.037), (1110, 0.04), (1141, 0.032), (1165, 0.035), (1187, 0.027),
         (1210, 0.02), (1233, 0.013), (1255, 0.008), (1300, 0.006), (2367, 0.006), (2401, 0.022), (2430, 0.03),
         (2459, 0.042), (2470, 0.07), (2482, 0.1), (2505, 0.114), (2520, 0.12), (2539, 0.128), (2555, 0.14),
         (2573, 0.148), (2590, 0.14), (2605, 0.157), (2620, 0.15), (2635, 0.165), (2653, 0.162), (2670, 0.15),
         (2690, 0.17), (2711, 0.157), (2725, 0.165), (2740, 0.175), (2755, 0.16), (2768, 0.167), (2785, 0.155),
         (2800, 0.17), (2815, 0.162), (2826, 0.172), (2840, 0.16), (2855, 0.175), (2870, 0.165), (2885, 0.172),
         (2900, 0.16), (2915, 0.18), (2930, 0.168), (2940, 0.177), (2955, 0.195), (2965, 0.17), (2980, 0.18),
         (2997, 0.182)]

LABELS_AB = ['Experimental', 'TRACE5 1 T3-1a', 'TRACE5 2 T3-1b']
LABELS_C = ['Experimental', 'TRACE5 T3-1a', 'TRACE5 T3-1b']
TIME_TICKS = [0, 500, 1000, 1500, 2000, 2500, 3000]
NORM_TICKS = [0, 0.1, 0.2, 0.3, 0.4, 0.5, 0.6, 0.7, 0.8, 0.9, 1]
TEMP_TICKS = [450, 500, 550, 600, 650, 700, 750, 800, 850, 900, 950]


def xy(pairs):
    arr = np.asarray(pairs, dtype=float)
    return arr[:, 0], arr[:, 1]


gfmt = FuncFormatter(lambda v, p: f'{v:g}')


def style(ax):
    ax.set_xlim(0, 3000)
    ax.set_ylim(0, 1)
    ax.set_xticks(TIME_TICKS)
    ax.set_yticks(NORM_TICKS)
    ax.xaxis.set_major_formatter(gfmt)
    ax.yaxis.set_major_formatter(gfmt)
    ax.tick_params(direction='in', length=4, width=0.8, labelsize=10.3, pad=3,
                   top=True, labeltop=False, bottom=True, labelbottom=True)
    ax.tick_params(axis='x', pad=4.8)
    ax.grid(axis='x', color='#8a8a8a', lw=0.9, ls='-')
    ax.grid(axis='y', color='#8a8a8a', lw=0.9, ls=(0, (1.2, 1.2)))
    ax.set_axisbelow(True)
    for s in ax.spines.values():
        s.set_linewidth(1.0)


def top_time_axis(ax):
    # tick labels and title along the upper edge; the tick marks come from the main axes
    sec = ax.secondary_xaxis('top')
    sec.set_xticks(TIME_TICKS)
    sec.xaxis.set_major_formatter(gfmt)
    sec.tick_params(direction='in', length=0, labelsize=10.3, pad=4.6)
    sec.spines['top'].set_visible(False)
    sec.set_xlabel('Time (s)', fontsize=10.5, labelpad=3)


def twin_style(ax2, lim, ticks, label):
    ax2.set_ylim(*lim)
    ax2.set_yticks(ticks)
    ax2.yaxis.set_major_formatter(gfmt)
    ax2.tick_params(direction='in', length=4, width=0.8, labelsize=10.3, pad=3)
    ax2.set_ylabel(label, fontsize=9.2, labelpad=4)


def add_legend(ax, labels, anchor, loc):
    handles = [Line2D([], [], color=c, lw=1.0) for c in (RED, BLUE, GREEN)]
    leg = ax.legend(handles, labels, loc=loc, bbox_to_anchor=anchor, fontsize=10.8, frameon=True,
                    fancybox=False, edgecolor='k', framealpha=1, borderpad=0.3, labelspacing=0.12,
                    handlelength=3.3, handletextpad=0.6, borderaxespad=0)
    leg.get_frame().set_linewidth(1.0)
    leg.set_zorder(10)


def arrow(ax, head, tail):
    ax.annotate('', xy=head, xytext=tail,
                arrowprops=dict(arrowstyle='-|>', color='k', lw=2.3, mutation_scale=19,
                                shrinkA=0, shrinkB=0))


W, H = 990, 1303


def box(left, top, right, bottom):
    return [left / W, 1 - bottom / H, (right - left) / W, (bottom - top) / H]


fig = plt.figure(figsize=(9.9, 13.03), dpi=100)
fig.patch.set_facecolor('white')

# ================================================================= a)
ax = fig.add_axes(box(68, 44, 939, 380))
style(ax)
ax.tick_params(right=False)
top_time_axis(ax)
ax.set_ylabel('Normalized Pressure', fontsize=9.2, labelpad=8)
ax.plot(t_pa_exp, pa_exp, color=RED, lw=LW)
ax.plot(t_pb_exp, pb_exp, color=RED, lw=LW)
ax.plot(t_pa_sim, pa_1a, color=BLUE, lw=LW)
ax.plot(t_pb_1a, pb_1a, color=BLUE, lw=LW)
ax.plot(t_pa_sim, pa_1b, color=GREEN, lw=LW)
ax.plot(t_pb_1b, pb_1b, color=GREEN, lw=LW)

axT = ax.twinx()
twin_style(axT, (450, 950), TEMP_TICKS, 'Temperature (K)')
axT.plot(t_t1_exp, t1_exp, color=RED, lw=LW)
axT.plot(t_t2_exp, t2_exp, color=RED, lw=LW)
axT.plot(t_t1_1a, t1_1a, color=BLUE, lw=LW)
axT.plot(t_t2_1a, t2_1a, color=BLUE, lw=LW)
axT.plot(t_t1_1b, t1_1b, color=GREEN, lw=LW)
axT.plot(t_t2_1b, t2_1b, color=GREEN, lw=LW)
add_legend(axT, LABELS_AB, (0.993, 0.979), 'upper right')

tk = dict(fontsize=15, family=SERIF, va='center', ha='left', zorder=12)
axT.text(127, 0.949, 'Apertura rotura', transform=ax.transData, **tk)
axT.text(169, 0.857, 'Señal de $\\mathit{scram}$', transform=ax.transData, **tk)
axT.text(207, 0.443, 'RV', transform=ax.transData, **tk)
axT.text(93, 0.369, 'abrir/cerrar', transform=ax.transData, **tk)
axT.text(34, 0.158, 'Cierre MSIV', transform=ax.transData, **tk)
axT.text(1440, 0.077, 'Sistema acumuladores', transform=ax.transData, **tk)
arrow(ax, (30, 0.496), (116, 0.441))
arrow(ax, (480, 0.486), (392, 0.425))
arrow(ax, (13, 0.496), (116, 0.199))
arrow(ax, (2171, 0.238), (2022, 0.129))
fig.text(12 / W, 1 - 37 / H, 'a)', fontsize=15, family=SERIF, va='center')

# ================================================================= b)
ax = fig.add_axes(box(68, 492.5, 939, 824))
style(ax)
ax.tick_params(right=False)
top_time_axis(ax)
ax.set_ylabel('Normalized Mass Flow Rate', fontsize=9.2, labelpad=8)
t_head, v_head = xy(flow_exp_head)
t_exp_flow = np.concatenate([t_head, np.arange(10, 3001, 10)])
v_exp_flow = np.concatenate([v_head, flow_exp_10s])
ts, vs = xy(flow_sim_start)
ta, va = xy(flow_1a)
tb, vb = xy(flow_1b)
ax.plot(np.concatenate([ts, ta]), np.concatenate([vs, va]), color=BLUE, lw=LW, clip_on=False)
ax.plot(np.concatenate([ts, tb]), np.concatenate([vs, vb]), color=GREEN, lw=LW, clip_on=False)
ax.plot(t_exp_flow, v_exp_flow, color=RED, lw=LW, clip_on=False)

axI = ax.twinx()
twin_style(axI, (0, 1), NORM_TICKS, 'Normalized Inventory')
for pairs, c in ((inv_exp, RED), (inv_1a, BLUE), (inv_1b, GREEN)):
    axI.plot(*xy(pairs), color=c, lw=LW)
add_legend(axI, LABELS_AB, (0.1447, 0.95), 'upper left')
axI.text(217, 0.736, 'Flujo monofásico lí-', transform=ax.transData, **tk)
axI.text(279, 0.660, 'quido a bifásico', transform=ax.transData, **tk)
axI.text(389, 0.124, 'Flujo bifásico a', transform=ax.transData, **tk)
axI.text(351, 0.048, 'monofásico vapor', transform=ax.transData, **tk)
fig.text(12 / W, 1 - 467 / H, 'b)', fontsize=15, family=SERIF, va='center')

# ================================================================= c)
ax = fig.add_axes(box(68, 919.5, 940, 1264.5))
style(ax)
ax.tick_params(right=True, labelright=False)
ax.set_xlabel('Time (s)', fontsize=10.5, labelpad=2)
ax.set_ylabel('Normalized Liquid level', fontsize=9.2, labelpad=8)
for pairs, c in ((up_exp, RED), (up_1b, GREEN), (up_1a, BLUE),
                 (core_exp, RED), (core_1a, BLUE), (core_1b, GREEN),
                 (dc_exp, RED), (dc_1a, BLUE), (dc_1b, GREEN)):
    ax.plot(*xy(pairs), color=c, lw=LW, clip_on=False, zorder=3)
add_legend(ax, LABELS_C, (0.530, 0.943), 'upper left')
ax.text(69, 0.746, 'Downcomer', fontsize=15, family=SERIF, style='italic', va='center')
ax.text(199, 0.25, 'Núcleo', fontsize=15, family=SERIF, va='center')
ax.text(48, 0.047, 'Upper plenum', fontsize=15, family=SERIF, style='italic', va='center')
fig.text(12 / W, 1 - 916 / H, 'c)', fontsize=15, family=SERIF, va='center')

fig.savefig('out.png', dpi=100, facecolor='white')
